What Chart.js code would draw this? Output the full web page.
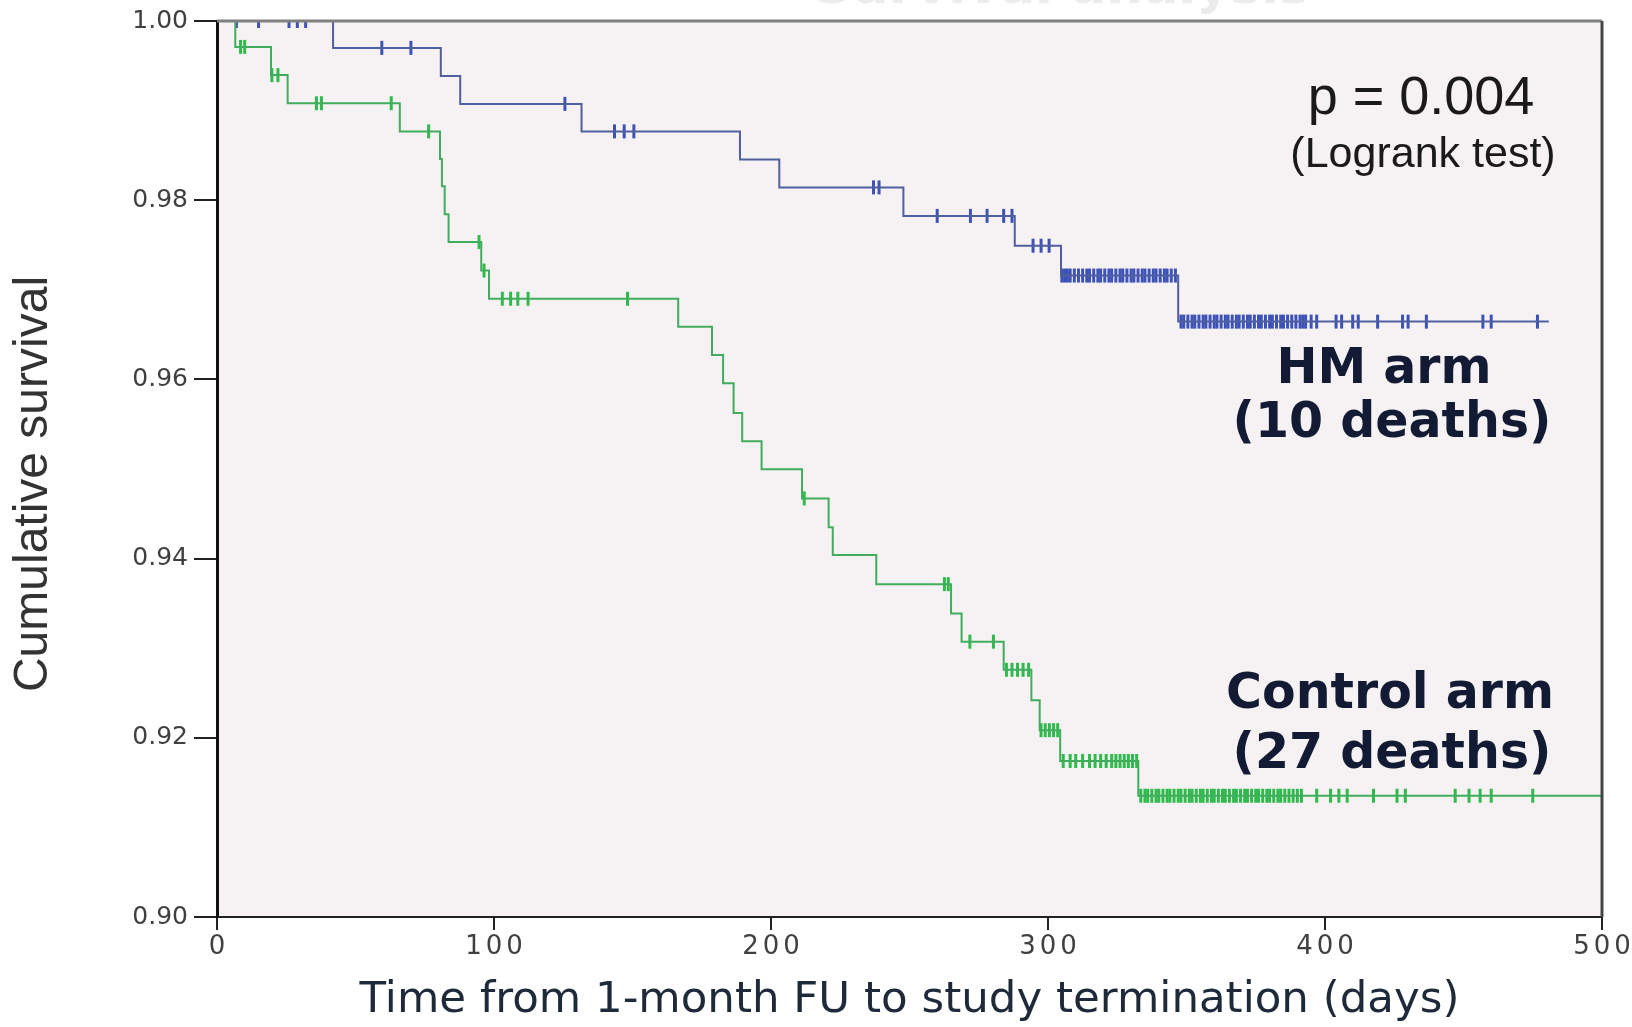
<!DOCTYPE html>
<html>
<head>
<meta charset="utf-8">
<script src="https://cdn.jsdelivr.net/npm/chart.js@4"></script>
<style>
  html, body { margin: 0; padding: 0; background: #ffffff; }
  canvas { display: block; }
</style>
</head>
<body>
<canvas id="km_graph" width="1632" height="1027"></canvas>
<script>
// x axis ticks (days) and y axis ticks (survival)
const xTicks = [0, 100, 200, 300, 400, 500];
const yTicks = [0.90, 0.92, 0.94, 0.96, 0.98, 1.00];

// HM arm: days of each step and survival after the step
const hmDays     = [0, 41.9, 80.8, 87.8, 131.6, 188.8, 203, 247.8, 288, 304.7, 347, 480.8];
const hmSurvival = [1.0, 0.99700, 0.99385, 0.99075, 0.98768, 0.98454, 0.98143, 0.97825, 0.97492, 0.97159, 0.96645, 0.96645];

// HM arm: censored (+) days
const hmCensored = [
    7, 15, 26, 29, 32, 59.5, 70, 125.6, 143.5, 147, 150.5, 237, 239,
    260, 272, 278, 284, 287, 294.6, 297.5, 300.4,
    305, 306, 307, 308, 309.5, 311, 312.5, 314, 315, 316.5, 318, 319, 320.5, 322, 323, 324.5,
    326, 327, 328.5, 330, 331, 332.5, 334, 335, 336.5, 338, 339, 340.5, 342, 343, 344.5, 346,
    348, 349, 350.5, 352, 353, 354.5, 356, 357, 358.5, 360, 361, 362.5, 364, 365, 366.5,
    368, 369, 370.5, 372, 373, 374.5, 376, 377, 378.5, 380, 381, 382.5, 384, 385, 386.5,
    388, 389.5, 391, 392, 393, 395, 397,
    404, 406, 410, 412, 419, 428, 430, 436.6, 457, 460, 476.7
];

// Control arm: days of each step and survival after the step
const ctrlDays = [
    0, 6.6, 19.5, 25.5, 66, 80.5, 81.2, 82.2, 83.6, 95.4, 98.2, 166.5, 178.7, 182.7,
    186.5, 189.6, 196.6, 211.2, 220.8, 222.3, 238, 265, 268.8, 284, 294, 297, 304.4, 332.6, 500
];
const ctrlSurvival = [
    1.0, 0.99711, 0.99396, 0.99082, 0.98768, 0.98460, 0.98157, 0.97843, 0.97533, 0.97215, 0.96900,
    0.96588, 0.96272, 0.95957, 0.95625, 0.95311, 0.94996, 0.94671, 0.94350, 0.94040, 0.93715,
    0.93387, 0.93073, 0.92759, 0.92420, 0.92085, 0.91741, 0.91353, 0.91353
];

// Control arm: censored (+) days
const ctrlCensored = [
    8.5, 10, 19.8, 22, 35.9, 37.7, 62.9, 76.4, 94.6, 96.4, 103, 106, 108.6, 112.3, 148.2,
    212, 262.6, 264, 271.8, 280.3, 285, 287, 289, 291, 293, 297.5, 299, 300.5, 302, 303.5,
    305.5, 308, 310, 312.5, 315, 317, 319, 321, 323, 324.5, 326, 327.5, 329, 330.5, 332,
    333.5, 335, 336, 337.5, 339, 340, 341.5, 343, 344, 345.5, 347, 348, 349.5, 351, 352,
    353.5, 355, 356, 357.5, 359, 360, 361.5, 363, 364, 365.5, 367, 368, 369.5, 371, 372,
    373.5, 375, 376, 377.5, 379, 380, 381.5, 383, 384, 385.5, 387, 388.5, 390, 391.5,
    397, 402, 405, 408, 417.5, 426, 429, 447, 452, 456, 460, 475
];

// survival level of a step curve at day t
function levelAt(days, surv, t){
    let v = surv[0];
    for (let i = 0; i < days.length; i++){
        if (days[i] <= t) v = surv[i];
    }
    return v;
}

function toPoints(days, surv){
    return days.map((d, i) => ({x: d, y: surv[i]}));
}

function censorPoints(days, surv, cens){
    return cens.map(t => ({x: t, y: levelAt(days, surv, t)}));
}

// background and box around plot area
const framePlugin = {
    id: "frame",
    beforeDraw(chart){
        const c = chart.ctx;
        const a = chart.chartArea;
        c.save();
        c.fillStyle = "#ffffff";
        c.fillRect(0, 0, chart.width, chart.height);
        c.fillStyle = "#f6f2f3";
        c.fillRect(a.left, a.top, a.right - a.left, a.bottom - a.top);
        c.restore();
    },
    afterDraw(chart){
        const c = chart.ctx;
        const a = chart.chartArea;
        c.save();
        // top and right border
        c.strokeStyle = "#808080";
        c.lineWidth = 3;
        c.beginPath();
        c.moveTo(a.left, a.top);
        c.lineTo(a.right, a.top);
        c.stroke();
        c.strokeStyle = "#444444";
        c.beginPath();
        c.moveTo(a.right, a.top);
        c.lineTo(a.right, a.bottom);
        c.stroke();

        // faint title cut at the top edge
        c.fillStyle = "#ececec";
        c.font = "bold 52px 'DejaVu Sans'";
        c.textAlign = "center";
        c.textBaseline = "alphabetic";
        c.fillText("Survival analysis", 1062, 3);

        // y axis title
        c.fillStyle = "#333333";
        c.font = "48px 'Liberation Sans'";
        c.translate(34, 484);
        c.rotate(-Math.PI / 2);
        c.textBaseline = "middle";
        c.fillText("Cumulative survival", 0, 0);
        c.setTransform(1, 0, 0, 1, 0, 0);

        // logrank test
        c.fillStyle = "#1a1a1a";
        c.textBaseline = "alphabetic";
        c.font = "54px 'Liberation Sans'";
        c.fillText("p = 0.004", 1421, 114);
        c.font = "43px 'Liberation Sans'";
        c.fillText("(Logrank test)", 1423, 167);

        // arm labels
        c.fillStyle = "#121b33";
        c.font = "bold 49px 'DejaVu Sans'";
        c.fillText("HM arm", 1384, 383);
        c.fillText("(10 deaths)", 1392, 437);
        c.fillText("Control arm", 1390, 708);
        c.fillText("(27 deaths)", 1392, 768);
        c.restore();
    }
};

// wide-spaced x tick labels, as in the original
function spacedLabels(scale){
    if (scale._spaced) return;
    scale._spaced = true;
    const base = Object.getPrototypeOf(scale).drawLabels;
    scale.drawLabels = function(area){
        const c = this.ctx;
        c.save();
        c.letterSpacing = "4px";
        c.translate(2, 0);
        base.call(this, area);
        c.restore();
    };
}

const ctx = document.getElementById("km_graph").getContext("2d");
const kmChart = new Chart(ctx, {
    type: "scatter",
    data: {
        datasets: [
            {
                label: "HM arm",
                data: toPoints(hmDays, hmSurvival),
                showLine: true,
                stepped: true,
                borderColor: "#4f5f9f",
                borderWidth: 2,
                pointRadius: 0
            },
            {
                label: "Control arm",
                data: toPoints(ctrlDays, ctrlSurvival),
                showLine: true,
                stepped: true,
                borderColor: "#40ad5e",
                borderWidth: 2,
                pointRadius: 0
            },
            {
                label: "HM censored",
                data: censorPoints(hmDays, hmSurvival, hmCensored),
                showLine: false,
                pointStyle: "line",
                rotation: 90,
                pointRadius: 7,
                borderColor: "#3c52b6",
                borderWidth: 3
            },
            {
                label: "Control censored",
                data: censorPoints(ctrlDays, ctrlSurvival, ctrlCensored),
                showLine: false,
                pointStyle: "line",
                rotation: 90,
                pointRadius: 7,
                borderColor: "#2fbb4c",
                borderWidth: 3
            }
        ]
    },
    options: {
        responsive: false,
        animation: false,
        devicePixelRatio: 1,
        layout: { padding: { top: 16, right: 30, left: 0, bottom: 0 } },
        plugins: {
            legend: { display: false },
            tooltip: { enabled: false }
        },
        scales: {
            x: {
                type: "linear",
                min: xTicks[0],
                max: xTicks[xTicks.length - 1],
                afterFit(scale){ scale.height = 110; spacedLabels(scale); },
                afterBuildTicks(scale){ scale.ticks = xTicks.map(v => ({value: v})); },
                grid: { drawOnChartArea: false, tickLength: 13, color: "#222222", lineWidth: 2 },
                border: { color: "#222222", width: 2 },
                ticks: {
                    padding: 2,
                    color: "#404040",
                    font: { family: "DejaVu Sans", size: 26 }
                },
                title: {
                    display: true,
                    text: "Time from 1-month FU to study termination (days)",
                    color: "#1e2a3a",
                    font: { family: "DejaVu Sans", size: 43.5 },
                    padding: { top: 0, bottom: 0 }
                }
            },
            y: {
                type: "linear",
                min: yTicks[0],
                max: yTicks[yTicks.length - 1],
                afterFit(scale){ scale.width = 217; },
                afterBuildTicks(scale){ scale.ticks = yTicks.map(v => ({value: v})); },
                grid: { drawOnChartArea: false, tickLength: 23, color: "#222222", lineWidth: 2 },
                border: { color: "#111111", width: 3 },
                ticks: {
                    padding: 6,
                    color: "#404040",
                    font: { family: "DejaVu Sans", size: 25 },
                    callback: v => Number(v).toFixed(2)
                }
            }
        }
    },
    plugins: [framePlugin]
});
</script>
</body>
</html>
